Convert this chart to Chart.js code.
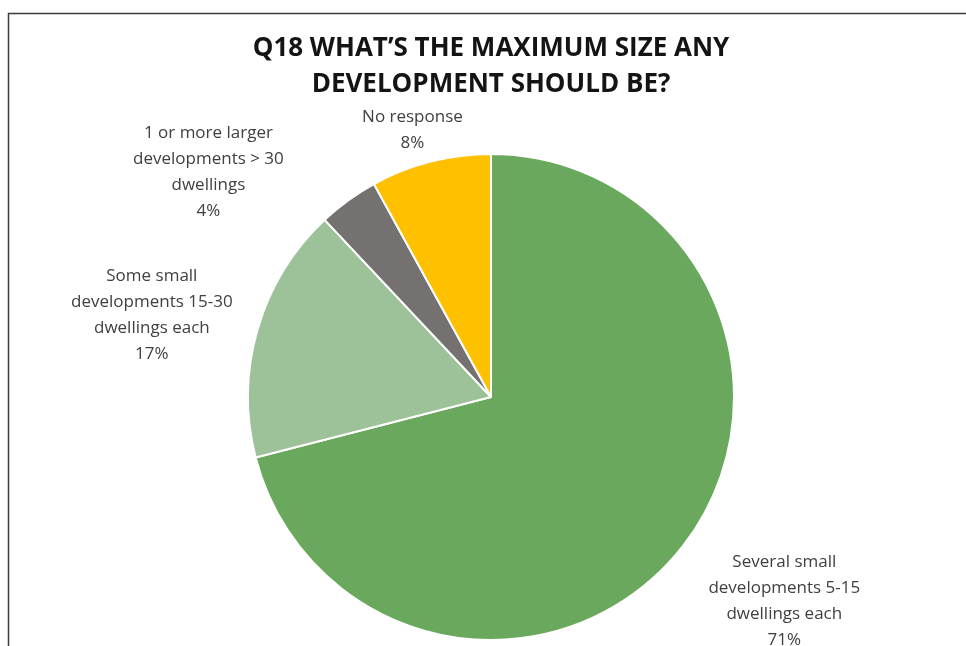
<!DOCTYPE html>
<html>
<head>
<meta charset="utf-8">
<title>Q18 maximum development size</title>
<script src="https://cdn.jsdelivr.net/npm/chart.js@4.4.1/dist/chart.umd.min.js"></script>
<style>
  html, body { margin: 0; padding: 0; background: #ffffff; }
  #wrap { position: relative; width: 966px; height: 646px; }
</style>
</head>
<body>
<div id="wrap"><canvas id="sizeChart"></canvas></div>
<script>
// Survey answers, clockwise from 12 o'clock
const categories = [
    'Several small developments 5-15 dwellings each',
    'Some small developments 15-30 dwellings each',
    '1 or more larger developments > 30 dwellings',
    'No response'
];
const labelLines = [
    ['Several small', 'developments 5-15', 'dwellings each'],
    ['Some small', 'developments 15-30', 'dwellings each'],
    ['1 or more larger', 'developments > 30', 'dwellings'],
    ['No response']
];
const percentages = [71, 17, 4, 8];
const sliceColors = ['#6aa95d', '#9dc199', '#767171', '#ffc000'];
const titleLines = ['Q18 WHAT\u2019S THE MAXIMUM SIZE ANY', 'DEVELOPMENT SHOULD BE?'];

// label placement: angle nudge (deg) and distance as a multiple of the radius
const labelPlacement = [
    { nudge: -3, dist: 1.47 },
    { nudge: -2.6, dist: 1.436 },
    { nudge: -15.5, dist: 1.486 },
    { nudge: -2, dist: 1.145 }
];

const LABEL_FONT = '17px "Open Sans", "Noto Sans", sans-serif';

// thin frame on the top and left edges
const framePlugin = {
    id: 'frame',
    beforeDraw(chart) {
        const ctx = chart.ctx;
        ctx.save();
        ctx.strokeStyle = '#3a3a3a';
        ctx.lineWidth = 1.5;
        ctx.beginPath();
        ctx.moveTo(8.5, chart.height + 2);
        ctx.lineTo(8.5, 13.5);
        ctx.lineTo(chart.width + 2, 13.5);
        ctx.stroke();
        ctx.restore();
    }
};

// category name + percentage outside each slice
const sliceLabelPlugin = {
    id: 'sliceLabels',
    afterDatasetsDraw(chart) {
        const ctx = chart.ctx;
        const meta = chart.getDatasetMeta(0);
        const values = chart.data.datasets[0].data;
        ctx.save();
        ctx.font = LABEL_FONT;
        ctx.fillStyle = '#404040';
        ctx.textAlign = 'center';
        ctx.textBaseline = 'middle';
        meta.data.forEach((arc, i) => {
            const p = arc.getProps(['x', 'y', 'startAngle', 'endAngle', 'outerRadius'], true);
            const place = labelPlacement[i];
            const mid = (p.startAngle + p.endAngle) / 2 + place.nudge * Math.PI / 180;
            const cx = p.x + Math.cos(mid) * p.outerRadius * place.dist;
            const cy = p.y + Math.sin(mid) * p.outerRadius * place.dist;
            const lines = labelLines[i].concat([values[i] + '%']);
            const lh = 26;
            const top = cy - (lines.length - 1) * lh / 2;
            lines.forEach((line, j) => ctx.fillText(line, cx, top + j * lh));
        });
        ctx.restore();
    }
};

new Chart(document.getElementById('sizeChart'), {
    type: 'pie',
    data: {
        labels: categories,
        datasets: [{
            data: percentages,
            backgroundColor: sliceColors,
            borderColor: '#ffffff',
            borderWidth: 2
        }]
    },
    options: {
        responsive: true,
        maintainAspectRatio: false,
        animation: { duration: 0 },
        layout: { padding: { left: 16, right: 0, top: 0, bottom: 5 } },
        plugins: {
            legend: { display: false },
            tooltip: { enabled: false },
            title: {
                display: true,
                text: titleLines,
                color: '#141414',
                font: { family: '"Open Sans", "Noto Sans", sans-serif', size: 26, weight: 'bold', lineHeight: 1.385 },
                padding: { top: 31, bottom: 50 }
            }
        }
    },
    plugins: [framePlugin, sliceLabelPlugin]
});
</script>
</body>
</html>
